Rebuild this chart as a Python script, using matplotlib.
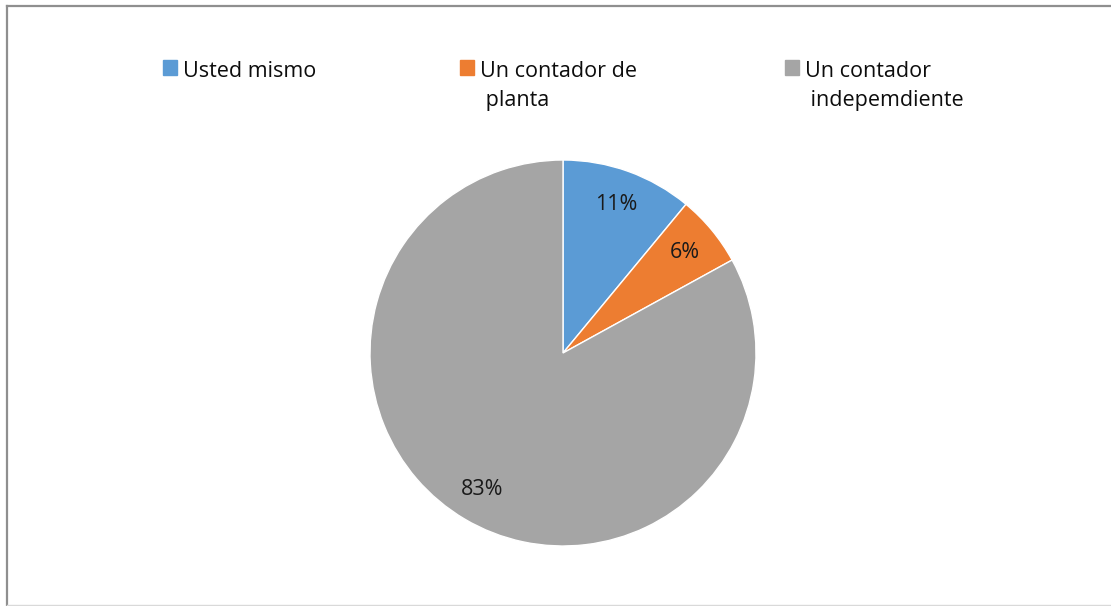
import matplotlib.pyplot as plt
from matplotlib.patches import Rectangle
from matplotlib.lines import Line2D

labels = ['Usted mismo', 'Un contador de\n planta', 'Un contador\n indepemdiente']
values = [11, 6, 83]
colors = ['#5b9bd5', '#ed7d31', '#a5a5a5']

W, H = 1111, 606
plt.rcParams['font.family'] = ['Open Sans', 'DejaVu Sans']

fig = plt.figure(figsize=(W / 100, H / 100), dpi=100)

# pie area: centre (563, 353), radius 193 px
cx, cy, r = 563, 353, 193
ax = fig.add_axes([(cx - r) / W, (H - cy - r) / H, 2 * r / W, 2 * r / H])
ax.pie(values, colors=colors, startangle=90, counterclock=False,
       autopct='%d%%', pctdistance=0.82,
       wedgeprops=dict(edgecolor='white', linewidth=1),
       textprops=dict(fontsize=15.5, color='#1a1a1a'))
ax.set_xlim(-1, 1)
ax.set_ylim(-1, 1)
ax.set_aspect('equal')

# legend drawn by hand to keep the first-line alignment
leg_x = [163, 460, 785]
for x, lab, col in zip(leg_x, labels, colors):
    fig.add_artist(Rectangle((x / W, (H - 75) / H), 14 / W, 15 / H,
                             transform=fig.transFigure, color=col))
    fig.text((x + 20) / W, (H - 61) / H, lab, fontsize=15.5, color='#0d0d0d',
             va='top', ha='left', linespacing=1.5)

# chart frame
fig.add_artist(Line2D([7 / W, 7 / W], [0, (H - 6) / H], color='#8f8f8f', lw=1.6,
                      transform=fig.transFigure))
fig.add_artist(Line2D([7 / W, 1], [(H - 6) / H, (H - 6) / H], color='#8f8f8f', lw=1.6,
                      transform=fig.transFigure))
fig.add_artist(Line2D([7 / W, 1], [1 / H, 1 / H], color='#d9d9d9', lw=1,
                      transform=fig.transFigure))

fig.savefig('out.png', dpi=100)
